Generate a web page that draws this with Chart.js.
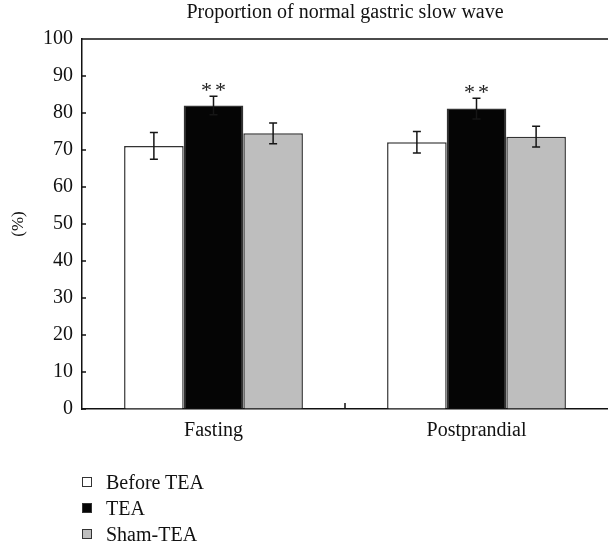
<!DOCTYPE html>
<html lang="en">
<head>
  <meta charset="UTF-8">
  <title>Proportion of normal gastric slow wave</title>
  <script src="https://cdn.jsdelivr.net/npm/chart.js"></script>
  <style>
    body { margin: 0; background: #fff; }
    #wrap { position: relative; width: 608px; height: 544px; }
    #legend { position: absolute; left: 82px; top: 469px; font-family: "Liberation Serif", serif; font-size: 20px; color: #111; }
    #legend .row { height: 26px; display: flex; align-items: center; }
    #legend .box { width: 8px; height: 8px; border: 1px solid #333; margin-right: 14px; }
  </style>
</head>
<body>
  <div id="wrap">
    <canvas id="chart" width="608" height="544"></canvas>
    <div id="legend"></div>
  </div>
  <script>
    // values
    const categories = ['Fasting', 'Postprandial'];
    const seriesNames = ['Before TEA', 'TEA', 'Sham-TEA'];
    const beforeTEA = [71.1, 72.1];
    const tea = [82.0, 81.2];
    const shamTEA = [74.5, 73.6];
    const beforeTEAErr = [3.6, 2.9];
    const teaErr = [2.5, 2.8];
    const shamTEAErr = [2.8, 2.8];
    const teaMarks = ['**', '**'];

    const fillColors = ['#ffffff', '#050505', '#bebebe'];
    const errors = [beforeTEAErr, teaErr, shamTEAErr];
    const serif = '"Liberation Serif", "Times New Roman", serif';

    const extras = {
      id: 'extras',
      afterDatasetsDraw(chart) {
        const ctx = chart.ctx;
        const y = chart.scales.y;
        ctx.save();
        ctx.strokeStyle = '#161616';
        ctx.lineWidth = 1.5;
        chart.data.datasets.forEach((ds, di) => {
          const meta = chart.getDatasetMeta(di);
          meta.data.forEach((bar, i) => {
            const v = ds.data[i], e = errors[di][i];
            const top = y.getPixelForValue(v + e), bot = y.getPixelForValue(v - e);
            ctx.beginPath();
            ctx.moveTo(bar.x, top); ctx.lineTo(bar.x, bot);
            ctx.moveTo(bar.x - 4, top); ctx.lineTo(bar.x + 4, top);
            ctx.moveTo(bar.x - 4, bot); ctx.lineTo(bar.x + 4, bot);
            ctx.stroke();
            if (di === 1 && teaMarks[i]) {
              ctx.fillStyle = '#222';
              ctx.font = '22px ' + serif;
              ctx.textAlign = 'center';
              ctx.textBaseline = 'alphabetic';
              ctx.fillText('*', bar.x - 7, top + 1);
              ctx.fillText('*', bar.x + 7, top + 1);
            }
          });
        });
        ctx.restore();
      },
      afterDraw(chart) {
        const ctx = chart.ctx;
        const a = chart.chartArea;
        const x = chart.scales.x, y = chart.scales.y;
        ctx.save();
        ctx.strokeStyle = '#111';
        ctx.lineWidth = 1.5;
        ctx.beginPath();
        // top frame line
        ctx.moveTo(a.left, a.top); ctx.lineTo(a.right, a.top);
        // inward y ticks
        y.ticks.forEach(t => {
          const py = y.getPixelForValue(t.value);
          ctx.moveTo(a.left, py); ctx.lineTo(a.left + 4, py);
        });
        // inward x tick between categories
        const mid = (x.getPixelForValue(0) + x.getPixelForValue(1)) / 2;
        ctx.moveTo(mid, a.bottom); ctx.lineTo(mid, a.bottom - 6);
        ctx.stroke();
        // title centred over plot area
        ctx.fillStyle = '#111';
        ctx.font = '20px ' + serif;
        ctx.textAlign = 'center';
        ctx.textBaseline = 'alphabetic';
        ctx.fillText('Proportion of normal gastric slow wave', (a.left + a.right) / 2, 18);
        ctx.restore();
      }
    };

    const chart = new Chart(document.getElementById('chart'), {
      type: 'bar',
      data: {
        labels: categories,
        datasets: [beforeTEA, tea, shamTEA].map((d, i) => ({
          label: seriesNames[i],
          data: d,
          backgroundColor: fillColors[i],
          borderColor: '#333',
          borderWidth: 1.5,
          categoryPercentage: 0.68,
          barPercentage: 1
        }))
      },
      options: {
        responsive: false,
        animation: false,
        layout: { padding: { top: 39, right: 0, left: 0, bottom: 0 } },
        plugins: {
          legend: { display: false },
          tooltip: { enabled: false }
        },
        scales: {
          x: {
            grid: { drawOnChartArea: false, drawTicks: false },
            border: { color: '#111', width: 1.5 },
            ticks: { color: '#111', padding: 10, font: { family: serif, size: 20 } },
            afterFit: s => { s.height = 135; }
          },
          y: {
            min: 0,
            max: 100,
            grid: { drawOnChartArea: false, drawTicks: false },
            border: { color: '#111', width: 1.5 },
            ticks: { stepSize: 10, color: '#111', padding: 9, font: { family: serif, size: 20 } },
            title: { display: true, text: '(%)', color: '#111', padding: { top: 8, bottom: 0 }, font: { family: serif, size: 17 } },
            afterFit: s => { s.width = 82; }
          }
        }
      },
      plugins: [extras]
    });

    // vertical legend built from the chart's datasets
    const legend = document.getElementById('legend');
    chart.data.datasets.forEach(ds => {
      const row = document.createElement('div');
      row.className = 'row';
      row.innerHTML = `<span class="box" style="background:${ds.backgroundColor}"></span><span>${ds.label}</span>`;
      legend.appendChild(row);
    });
  </script>
</body>
</html>
